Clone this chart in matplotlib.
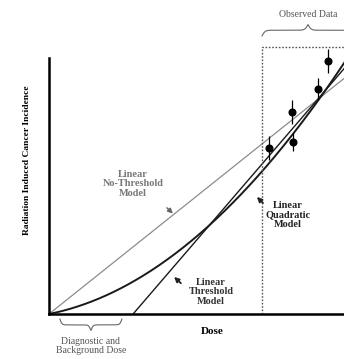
import matplotlib
matplotlib.use('Agg')
import matplotlib.pyplot as plt
import numpy as np

# ── Data ──────────────────────────────────────────────────────────────────────
# dose and incidence in arbitrary units (x: 0-10, y: 0-10)
LNT_SLOPE = 0.92
THRESH_DOSE = 2.85
THRESH_SLOPE = 1.34
LQ_ALPHA = 0.23
LQ_BETA = 0.075

OBS_DOSE = [7.46, 8.24, 8.27, 9.12, 9.46]
OBS_RISK = [6.48, 7.89, 6.72, 8.79, 9.88]
OBS_ERR = [0.48, 0.48, 0.35, 0.42, 0.48]

BOX_LEFT = 7.22
BOX_TOP = 10.43
LOW_DOSE = (0.37, 2.47)

C_LNT = '#8c8c8c'
C_LINE = '#1a1a1a'
SERIF = ['Liberation Serif', 'DejaVu Serif']
plt.rcParams['font.family'] = SERIF


def curly(ax, x0, x1, y, h, up=True, **kw):
    # curly brace between x0 and x1; the tip sits h away from y
    n = 400
    xs = np.linspace(x0, x1, n)
    mid = (x0 + x1) / 2
    k = 60.0 / (x1 - x0)
    half = xs[:n // 2]
    yh = 1 / (1 + np.exp(-k * (half - x0))) + 1 / (1 + np.exp(-k * (half - mid)))
    ys = np.concatenate([yh, yh[::-1]])
    ys = (ys - 0.5) * h
    ys = y + ys if up else y - ys
    ax.plot(xs, ys, clip_on=False, **kw)


fig = plt.figure(figsize=(3.44, 3.59), dpi=100, facecolor='white')
ax = fig.add_axes([49 / 344, 45 / 359, 295 / 344, 314 / 359])
ax.set_xlim(0, 10)
ax.set_ylim(0, 314 / 25.6)

x = np.linspace(0, 10.4, 300)
ax.plot(x, LNT_SLOPE * x, color=C_LNT, lw=0.9, clip_on=False)
xt = np.linspace(THRESH_DOSE, 10.4, 100)
ax.plot(xt, THRESH_SLOPE * (xt - THRESH_DOSE), color=C_LINE, lw=1.0, clip_on=False)
ax.plot(x, LQ_ALPHA * x + LQ_BETA * x ** 2, color=C_LINE, lw=1.4, clip_on=False)

ax.errorbar(OBS_DOSE, OBS_RISK, yerr=OBS_ERR, fmt='o', color='black',
            markersize=4.8, elinewidth=0.9, capsize=0, clip_on=False, zorder=5)

# observed data window
ax.plot([BOX_LEFT, BOX_LEFT, 10.5], [0, BOX_TOP, BOX_TOP], color='#555555',
        lw=1.0, linestyle=(0, (1.2, 1.2)), clip_on=False)
curly(ax, BOX_LEFT, 10.34, 10.86, 0.45, up=True, color='#666666', lw=0.8)
ax.text(8.78, 11.68, 'Observed Data', fontsize=7, color='#555555',
        ha='center', va='center')

# low dose range
curly(ax, LOW_DOSE[0], LOW_DOSE[1], -0.2, 0.45, up=False, color='#666666', lw=0.8)
ax.text(sum(LOW_DOSE) / 2, -1.25, 'Diagnostic and\nBackground Dose', fontsize=7,
        color='#555555', ha='center', va='center', linespacing=1.05)

# model labels
lab = dict(fontsize=7.4, fontweight='bold', ha='center', va='center', linespacing=1.1)
ax.text(2.85, 5.08, 'Linear\nNo-Threshold\nModel', color='#777777', **lab)
ax.annotate('', xy=(4.27, 3.85), xytext=(3.93, 4.22),
            arrowprops=dict(arrowstyle='-|>', color='#666666', lw=1.1,
                            mutation_scale=7))

ax.text(5.49, 0.86, 'Linear\nThreshold\nModel', color='#333333', **lab)
ax.annotate('', xy=(4.17, 1.52), xytext=(4.54, 1.13),
            arrowprops=dict(arrowstyle='-|>', color='#222222', lw=1.3,
                            mutation_scale=7))

ax.text(8.1, 3.87, 'Linear\nQuadratic\nModel', color='#222222', **lab)
ax.annotate('', xy=(6.98, 4.65), xytext=(7.32, 4.26),
            arrowprops=dict(arrowstyle='-|>', color='#222222', lw=1.3,
                            mutation_scale=7))

ax.text(5.53, -0.70, 'Dose', fontsize=8, fontweight='bold', ha='center', va='center')
ax.text(-0.75, 6.0, 'Radiation Induced Cancer Incidence', fontsize=6.8,
        fontweight='bold', ha='center', va='center', rotation=90)

ax.set_xticks([])
ax.set_yticks([])
for s in ['top', 'right']:
    ax.spines[s].set_visible(False)
for s in ['left', 'bottom']:
    ax.spines[s].set_linewidth(1.8)
ax.spines['left'].set_bounds(0, 10)

fig.savefig('out.png', dpi=100, facecolor='white')
